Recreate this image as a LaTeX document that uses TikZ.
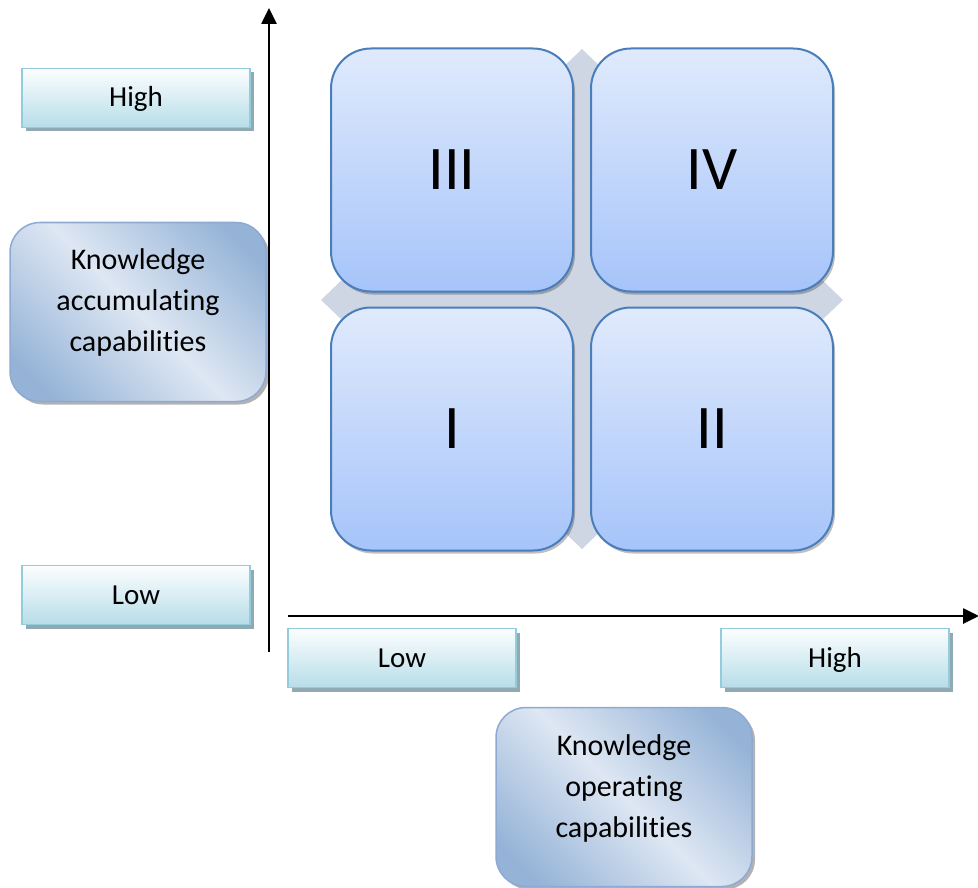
\documentclass[tikz,border=0pt]{standalone}
\usepackage{fontspec}
\setmainfont{Carlito}[Ligatures=NoCommon]
\usetikzlibrary{shadows,arrows.meta}

\definecolor{diamondfill}{RGB}{206,214,227}
\definecolor{sqtop}{RGB}{224,234,252}
\definecolor{sqbot}{RGB}{166,196,250}
\definecolor{sqborder}{RGB}{74,126,187}
\definecolor{lvltop}{RGB}{252,254,255}
\definecolor{lvlbot}{RGB}{183,221,232}
\definecolor{lvlborder}{RGB}{147,205,221}
\definecolor{lvlshadow}{RGB}{143,170,178}
\definecolor{kdark}{RGB}{149,179,215}
\definecolor{klight}{RGB}{222,231,243}
\definecolor{kborder}{RGB}{142,170,210}

% light band through the middle, darker towards both ends
\pgfdeclareverticalshading{kbands}{100bp}{color(0bp)=(kdark); color(22bp)=(kdark); color(50bp)=(klight); color(78bp)=(kdark); color(100bp)=(kdark)}

\tikzset{
  quad/.style={draw=sqborder, line width=2pt, rounded corners=40pt,
    top color=sqtop, bottom color=sqbot,
    minimum width=242pt, minimum height=243pt, inner sep=0pt,
    font=\fontsize{62}{70}\selectfont,
    drop shadow={shadow xshift=2pt, shadow yshift=-3pt, fill=black, opacity=0.25}},
  level/.style={draw=lvlborder, line width=1.5pt,
    top color=lvltop, bottom color=lvlbot,
    minimum width=228pt, minimum height=59pt, inner sep=0pt,
    text height=24pt, text depth=6pt,
    font=\fontsize{29}{34}\selectfont,
    drop shadow={shadow xshift=4pt, shadow yshift=-4pt, fill=lvlshadow, opacity=1}},
  dim/.style={draw=kborder, line width=1.5pt, rounded corners=30pt,
    shading=kbands, shading angle=-45,
    minimum width=256pt, minimum height=179pt, inner sep=0pt,
    drop shadow={shadow xshift=3pt, shadow yshift=-3pt, fill=black, opacity=0.3}},
  dimtext/.style={align=center, font=\fontsize{30}{41}\selectfont, inner sep=0pt},
  axis/.style={line width=2.6pt, -{Triangle[length=16pt,width=15pt]}}
}

\begin{document}
\begin{tikzpicture}[x=1pt, y=-1pt]
  \useasboundingbox (0,0) rectangle (978,888);

  % diamond behind the four quadrants
  \fill[diamondfill] (582,49) -- (843,300) -- (582,549) -- (321,300) -- cycle;

  % quadrants
  \node[quad] (q3) at (452,170) {III};
  \node[quad] (q4) at (712,170) {IV};
  \node[quad] (q1) at (452,429) {I};
  \node[quad] (q2) at (712,429) {II};

  % axes
  \coordinate (yfoot) at (269,652);
  \coordinate (ytip) at (269,8);
  \coordinate (xfoot) at (288,616);
  \coordinate (xtip) at (979,616);
  \draw[axis] (yfoot) -- (ytip);
  \draw[axis] (xfoot) -- (xtip);

  % level labels
  \node[level] (yhigh) at (136,98) {High};
  \node[level] (ylow)  at (136,595) {Low};
  \node[level] (xlow)  at (402,658) {Low};
  \node[level] (xhigh) at (835,658) {High};

  % axis titles: box first, then its three lines set a little above centre
  \node[dim] (ytitle) at (138,312) {};
  \node[dimtext] (ytitletext) at (138,303) {Knowledge\\accumulating\\capabilities};
  \node[dim] (xtitle) at (624,797) {};
  \node[dimtext] (xtitletext) at (624,788) {Knowledge\\operating\\capabilities};
\end{tikzpicture}
\end{document}
